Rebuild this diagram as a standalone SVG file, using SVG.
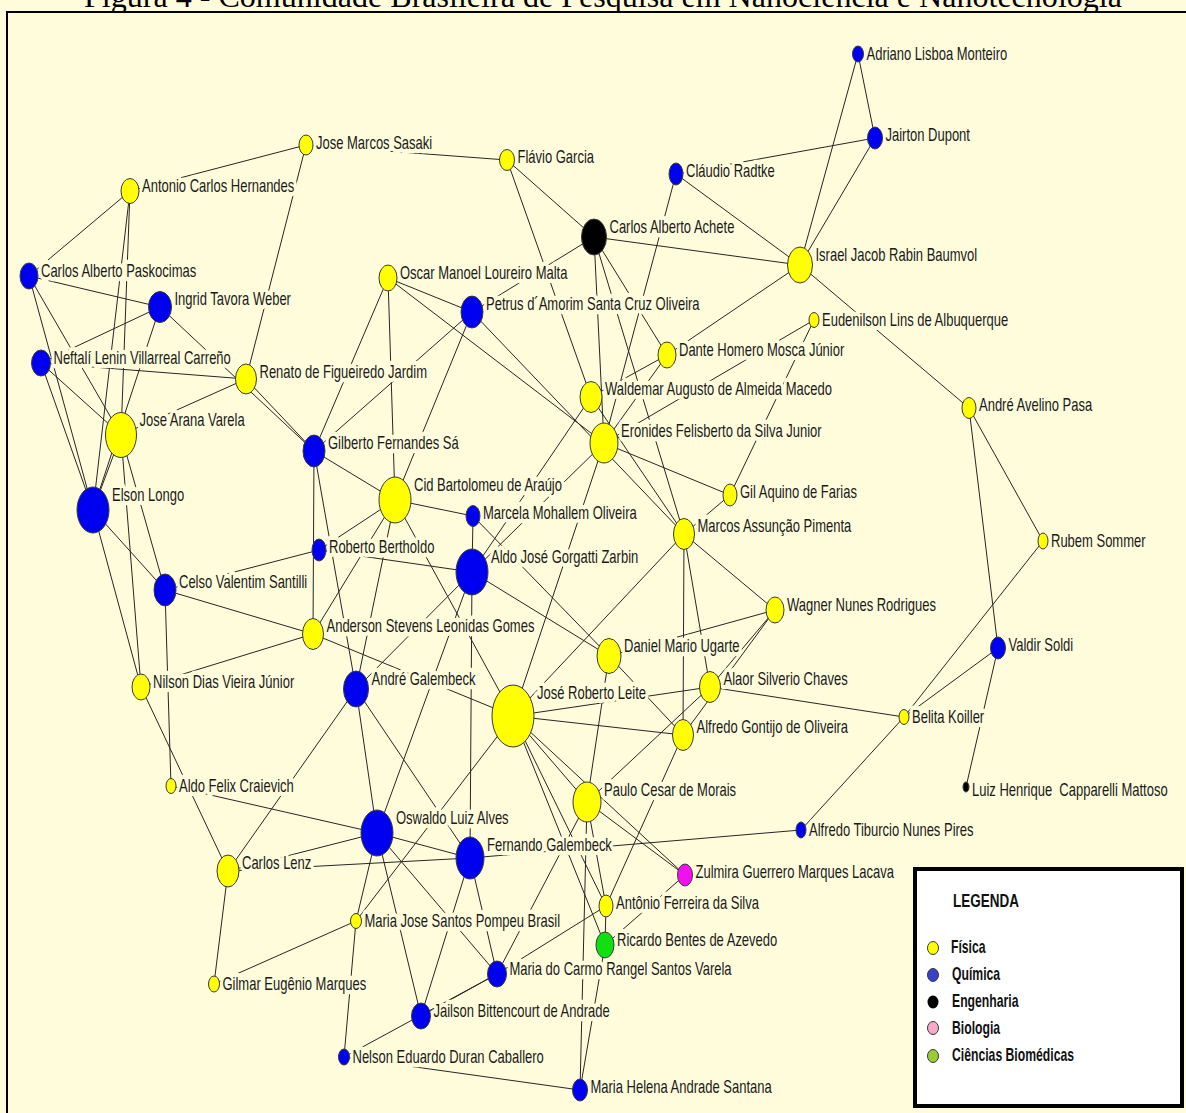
<svg xmlns="http://www.w3.org/2000/svg" width="1186" height="1113" viewBox="0 0 1186 1113">
<style>
.bg{fill:#FFFCDC}
.e line{stroke:#262626;stroke-width:1;fill:none}
.n{stroke:#3a3a3a;stroke-width:1}
.y{fill:#FFFF00}.b{fill:#0000F0}.k{fill:#000000}.m{fill:#F010F0}.g{fill:#10E010}
.l{font-family:"Liberation Sans",Arial,sans-serif;font-size:13px;fill:#1a1a1a;stroke:#FFFCDC;stroke-width:6px;stroke-linejoin:round;paint-order:stroke}
.lg{font-family:"Liberation Sans",Arial,sans-serif;font-weight:bold;fill:#111}
</style>
<rect class="bg" x="0" y="0" width="1186" height="1113"/>
<text x="84" y="7" font-family="Liberation Serif,Times New Roman,serif" font-size="31" textLength="1038" lengthAdjust="spacingAndGlyphs" fill="#000">Figura 4 - Comunidade Brasileira de Pesquisa em Nanociência e Nanotecnologia</text>
<rect x="7" y="12" width="1190" height="1110" fill="#FFFCDC" stroke="#000" stroke-width="2"/>
<g id="connectors" class="e">
<line x1="858" y1="54" x2="875" y2="138"/>
<line x1="858" y1="54" x2="800" y2="265"/>
<line x1="875" y1="138" x2="800" y2="265"/>
<line x1="875" y1="138" x2="676" y2="174"/>
<line x1="676" y1="174" x2="800" y2="265"/>
<line x1="676" y1="174" x2="604" y2="443"/>
<line x1="594" y1="237" x2="800" y2="265"/>
<line x1="507" y1="160" x2="594" y2="237"/>
<line x1="306" y1="145" x2="507" y2="160"/>
<line x1="507" y1="160" x2="591" y2="397"/>
<line x1="594" y1="237" x2="604" y2="443"/>
<line x1="594" y1="237" x2="684" y2="534"/>
<line x1="594" y1="237" x2="667" y2="355"/>
<line x1="594" y1="237" x2="472" y2="312"/>
<line x1="800" y1="265" x2="969" y2="408"/>
<line x1="800" y1="265" x2="667" y2="355"/>
<line x1="814" y1="320" x2="730" y2="495"/>
<line x1="814" y1="320" x2="604" y2="443"/>
<line x1="667" y1="355" x2="591" y2="397"/>
<line x1="667" y1="355" x2="604" y2="443"/>
<line x1="969" y1="408" x2="1043" y2="541"/>
<line x1="969" y1="408" x2="998" y2="648"/>
<line x1="1043" y1="541" x2="904" y2="717"/>
<line x1="998" y1="648" x2="904" y2="717"/>
<line x1="998" y1="648" x2="966" y2="787"/>
<line x1="904" y1="717" x2="801" y2="830"/>
<line x1="710" y1="687" x2="904" y2="717"/>
<line x1="801" y1="830" x2="470" y2="858"/>
<line x1="604" y1="443" x2="730" y2="495"/>
<line x1="730" y1="495" x2="684" y2="534"/>
<line x1="684" y1="534" x2="775" y2="610"/>
<line x1="684" y1="534" x2="710" y2="687"/>
<line x1="684" y1="534" x2="683" y2="735"/>
<line x1="684" y1="534" x2="513" y2="716"/>
<line x1="775" y1="610" x2="710" y2="687"/>
<line x1="775" y1="610" x2="683" y2="735"/>
<line x1="775" y1="610" x2="609" y2="656"/>
<line x1="609" y1="656" x2="683" y2="735"/>
<line x1="609" y1="656" x2="587" y2="802"/>
<line x1="513" y1="716" x2="710" y2="687"/>
<line x1="513" y1="716" x2="683" y2="735"/>
<line x1="710" y1="687" x2="587" y2="802"/>
<line x1="683" y1="735" x2="606" y2="906"/>
<line x1="513" y1="716" x2="587" y2="802"/>
<line x1="513" y1="716" x2="685" y2="875"/>
<line x1="513" y1="716" x2="605" y2="945"/>
<line x1="513" y1="716" x2="606" y2="906"/>
<line x1="587" y1="802" x2="685" y2="875"/>
<line x1="587" y1="802" x2="606" y2="906"/>
<line x1="587" y1="802" x2="580" y2="1090"/>
<line x1="587" y1="802" x2="497" y2="974"/>
<line x1="605" y1="945" x2="580" y2="1090"/>
<line x1="606" y1="906" x2="605" y2="945"/>
<line x1="685" y1="875" x2="605" y2="945"/>
<line x1="497" y1="974" x2="606" y2="906"/>
<line x1="470" y1="858" x2="497" y2="974"/>
<line x1="470" y1="858" x2="421" y2="1016"/>
<line x1="377" y1="833" x2="470" y2="858"/>
<line x1="228" y1="871" x2="470" y2="858"/>
<line x1="228" y1="871" x2="377" y2="833"/>
<line x1="171" y1="786" x2="377" y2="833"/>
<line x1="377" y1="833" x2="356" y2="921"/>
<line x1="377" y1="833" x2="421" y2="1016"/>
<line x1="377" y1="833" x2="497" y2="974"/>
<line x1="377" y1="833" x2="472" y2="572"/>
<line x1="356" y1="921" x2="513" y2="716"/>
<line x1="356" y1="921" x2="214" y2="984"/>
<line x1="356" y1="921" x2="344" y2="1057"/>
<line x1="356" y1="689" x2="377" y2="833"/>
<line x1="228" y1="871" x2="214" y2="984"/>
<line x1="228" y1="871" x2="356" y2="689"/>
<line x1="141" y1="687" x2="228" y2="871"/>
<line x1="165" y1="590" x2="171" y2="786"/>
<line x1="165" y1="590" x2="313" y2="634"/>
<line x1="141" y1="687" x2="313" y2="634"/>
<line x1="93" y1="510" x2="165" y2="590"/>
<line x1="93" y1="510" x2="141" y2="687"/>
<line x1="121" y1="435" x2="141" y2="687"/>
<line x1="121" y1="435" x2="165" y2="590"/>
<line x1="121" y1="435" x2="93" y2="510"/>
<line x1="130" y1="191" x2="93" y2="510"/>
<line x1="160" y1="307" x2="93" y2="510"/>
<line x1="130" y1="191" x2="29" y2="276"/>
<line x1="130" y1="191" x2="121" y2="435"/>
<line x1="306" y1="145" x2="130" y2="191"/>
<line x1="306" y1="145" x2="246" y2="379"/>
<line x1="29" y1="276" x2="160" y2="307"/>
<line x1="29" y1="276" x2="121" y2="435"/>
<line x1="29" y1="276" x2="93" y2="510"/>
<line x1="41" y1="363" x2="160" y2="307"/>
<line x1="41" y1="363" x2="246" y2="379"/>
<line x1="41" y1="363" x2="121" y2="435"/>
<line x1="41" y1="363" x2="93" y2="510"/>
<line x1="160" y1="307" x2="314" y2="451"/>
<line x1="246" y1="379" x2="314" y2="451"/>
<line x1="246" y1="379" x2="121" y2="435"/>
<line x1="388" y1="278" x2="472" y2="312"/>
<line x1="388" y1="278" x2="604" y2="443"/>
<line x1="472" y1="312" x2="684" y2="534"/>
<line x1="591" y1="397" x2="684" y2="534"/>
<line x1="388" y1="278" x2="314" y2="451"/>
<line x1="388" y1="278" x2="395" y2="500"/>
<line x1="472" y1="312" x2="314" y2="451"/>
<line x1="472" y1="312" x2="395" y2="500"/>
<line x1="314" y1="451" x2="395" y2="500"/>
<line x1="314" y1="451" x2="313" y2="634"/>
<line x1="314" y1="451" x2="356" y2="689"/>
<line x1="395" y1="500" x2="473" y2="516"/>
<line x1="395" y1="500" x2="319" y2="550"/>
<line x1="395" y1="500" x2="313" y2="634"/>
<line x1="395" y1="500" x2="356" y2="689"/>
<line x1="395" y1="500" x2="513" y2="716"/>
<line x1="319" y1="550" x2="472" y2="572"/>
<line x1="319" y1="550" x2="165" y2="590"/>
<line x1="473" y1="516" x2="472" y2="572"/>
<line x1="473" y1="516" x2="609" y2="656"/>
<line x1="472" y1="572" x2="609" y2="656"/>
<line x1="472" y1="572" x2="356" y2="689"/>
<line x1="472" y1="572" x2="604" y2="443"/>
<line x1="591" y1="397" x2="472" y2="572"/>
<line x1="604" y1="443" x2="513" y2="716"/>
<line x1="472" y1="572" x2="470" y2="858"/>
<line x1="313" y1="634" x2="513" y2="716"/>
<line x1="356" y1="689" x2="470" y2="858"/>
<line x1="497" y1="974" x2="421" y2="1016"/>
<line x1="497" y1="974" x2="344" y2="1057"/>
<line x1="344" y1="1057" x2="580" y2="1090"/>
</g>
<g id="n-adriano"><text class="l" transform="translate(866.5,59.5) scale(1,1.4)">Adriano Lisboa Monteiro</text><ellipse class="n b" cx="858" cy="54" rx="5.5" ry="8"/></g>
<g id="n-jairton"><text class="l" transform="translate(885.5,140.5) scale(1,1.4)">Jairton Dupont</text><ellipse class="n b" cx="875" cy="138" rx="7.5" ry="11"/></g>
<g id="n-claudio"><text class="l" transform="translate(686,176.5) scale(1,1.4)">Cláudio Radtke</text><ellipse class="n b" cx="676" cy="174" rx="7" ry="11"/></g>
<g id="n-sasaki"><text class="l" transform="translate(316,148.5) scale(1,1.4)">Jose Marcos Sasaki</text><ellipse class="n y" cx="306" cy="145" rx="7" ry="10"/></g>
<g id="n-flavio"><text class="l" transform="translate(517.5,163) scale(1,1.4)">Flávio Garcia</text><ellipse class="n y" cx="507" cy="160" rx="7.5" ry="10.5"/></g>
<g id="n-hernandes"><text class="l" transform="translate(142,192) scale(1,1.4)">Antonio Carlos Hernandes</text><ellipse class="n y" cx="130" cy="191" rx="9" ry="12.5"/></g>
<g id="n-achete"><text class="l" transform="translate(609.5,232.5) scale(1,1.4)">Carlos Alberto Achete</text><ellipse class="n k" cx="594" cy="237" rx="12.5" ry="18"/></g>
<g id="n-baumvol"><text class="l" transform="translate(815.5,260.5) scale(1,1.4)">Israel Jacob Rabin Baumvol</text><ellipse class="n y" cx="800" cy="265" rx="12.5" ry="18"/></g>
<g id="n-paskocimas"><text class="l" transform="translate(41,276.5) scale(1,1.4)">Carlos Alberto Paskocimas</text><ellipse class="n b" cx="29" cy="276" rx="9" ry="13"/></g>
<g id="n-malta"><text class="l" transform="translate(400,278.5) scale(1,1.4)">Oscar Manoel Loureiro Malta</text><ellipse class="n y" cx="388" cy="278" rx="9" ry="13"/></g>
<g id="n-weber"><text class="l" transform="translate(174.5,305) scale(1,1.4)">Ingrid Tavora Weber</text><ellipse class="n b" cx="160" cy="307" rx="11.5" ry="15.5"/></g>
<g id="n-petrus"><text class="l" transform="translate(486,309.5) scale(1,1.4)">Petrus d´Amorim Santa Cruz Oliveira</text><ellipse class="n b" cx="472" cy="312" rx="11" ry="16"/></g>
<g id="n-eudenilson"><text class="l" transform="translate(822,326) scale(1,1.4)">Eudenilson Lins de Albuquerque</text><ellipse class="n y" cx="814" cy="320" rx="5" ry="7.5"/></g>
<g id="n-neftali"><text class="l" transform="translate(53.5,363.5) scale(1,1.4)">Neftalí Lenin Villarreal Carreño</text><ellipse class="n b" cx="41" cy="363" rx="9.5" ry="13"/></g>
<g id="n-renato"><text class="l" transform="translate(259.5,377.5) scale(1,1.4)">Renato de Figueiredo Jardim</text><ellipse class="n y" cx="246" cy="379" rx="10.5" ry="15"/></g>
<g id="n-dante"><text class="l" transform="translate(679,355.5) scale(1,1.4)">Dante Homero Mosca Júnior</text><ellipse class="n y" cx="667" cy="355" rx="9" ry="13"/></g>
<g id="n-waldemar"><text class="l" transform="translate(605,395) scale(1,1.4)">Waldemar Augusto de Almeida Macedo</text><ellipse class="n y" cx="591" cy="397" rx="11" ry="15.5"/></g>
<g id="n-eronides"><text class="l" transform="translate(621,436.5) scale(1,1.4)">Eronides Felisberto da Silva Junior</text><ellipse class="n y" cx="604" cy="443" rx="14" ry="20"/></g>
<g id="n-pasa"><text class="l" transform="translate(979,411) scale(1,1.4)">André Avelino Pasa</text><ellipse class="n y" cx="969" cy="408" rx="7" ry="10.5"/></g>
<g id="n-arana"><text class="l" transform="translate(139.5,426) scale(1,1.4)">Jose Arana Varela</text><ellipse class="n y" cx="121" cy="435" rx="15.5" ry="22.5"/></g>
<g id="n-gilberto"><text class="l" transform="translate(328,448.5) scale(1,1.4)">Gilberto Fernandes Sá</text><ellipse class="n b" cx="314" cy="451" rx="11" ry="16"/></g>
<g id="n-cid"><text class="l" transform="translate(414,490.5) scale(1,1.4)">Cid Bartolomeu de Araújo</text><ellipse class="n y" cx="395" cy="500" rx="16" ry="23"/></g>
<g id="n-gil"><text class="l" transform="translate(740,497.5) scale(1,1.4)">Gil Aquino de Farias</text><ellipse class="n y" cx="730" cy="495" rx="7" ry="11"/></g>
<g id="n-marcela"><text class="l" transform="translate(483,519) scale(1,1.4)">Marcela Mohallem Oliveira</text><ellipse class="n b" cx="473" cy="516" rx="7" ry="10.5"/></g>
<g id="n-elson"><text class="l" transform="translate(112,500.5) scale(1,1.4)">Elson Longo</text><ellipse class="n b" cx="93" cy="510" rx="16" ry="23"/></g>
<g id="n-pimenta"><text class="l" transform="translate(697.5,532) scale(1,1.4)">Marcos Assunção Pimenta</text><ellipse class="n y" cx="684" cy="534" rx="10.5" ry="15.5"/></g>
<g id="n-sommer"><text class="l" transform="translate(1051,546.5) scale(1,1.4)">Rubem Sommer</text><ellipse class="n y" cx="1043" cy="541" rx="5" ry="8"/></g>
<g id="n-bertholdo"><text class="l" transform="translate(329,552.5) scale(1,1.4)">Roberto Bertholdo</text><ellipse class="n b" cx="319" cy="550" rx="7" ry="11"/></g>
<g id="n-zarbin"><text class="l" transform="translate(491,562.5) scale(1,1.4)">Aldo José Gorgatti Zarbin</text><ellipse class="n b" cx="472" cy="572" rx="16" ry="23"/></g>
<g id="n-santilli"><text class="l" transform="translate(179,587.5) scale(1,1.4)">Celso Valentim Santilli</text><ellipse class="n b" cx="165" cy="590" rx="11" ry="16"/></g>
<g id="n-wagner"><text class="l" transform="translate(787,610.5) scale(1,1.4)">Wagner Nunes Rodrigues</text><ellipse class="n y" cx="775" cy="610" rx="9" ry="13"/></g>
<g id="n-anderson"><text class="l" transform="translate(326.5,632) scale(1,1.4)">Anderson Stevens Leonidas Gomes</text><ellipse class="n y" cx="313" cy="634" rx="10.5" ry="15.5"/></g>
<g id="n-ugarte"><text class="l" transform="translate(624,652) scale(1,1.4)">Daniel Mario Ugarte</text><ellipse class="n y" cx="609" cy="656" rx="12" ry="17.5"/></g>
<g id="n-soldi"><text class="l" transform="translate(1008.5,650.5) scale(1,1.4)">Valdir Soldi</text><ellipse class="n b" cx="998" cy="648" rx="7.5" ry="11"/></g>
<g id="n-nilson"><text class="l" transform="translate(153,687.5) scale(1,1.4)">Nilson Dias Vieira Júnior</text><ellipse class="n y" cx="141" cy="687" rx="9" ry="13"/></g>
<g id="n-andre-galembeck"><text class="l" transform="translate(371.5,684.5) scale(1,1.4)">André Galembeck</text><ellipse class="n b" cx="356" cy="689" rx="12.5" ry="18"/></g>
<g id="n-alaor"><text class="l" transform="translate(723.5,685) scale(1,1.4)">Alaor Silverio Chaves</text><ellipse class="n y" cx="710" cy="687" rx="10.5" ry="15.5"/></g>
<g id="n-leite"><text class="l" transform="translate(537,698.5) scale(1,1.4)">José Roberto Leite</text><ellipse class="n y" cx="513" cy="716" rx="21" ry="31"/></g>
<g id="n-belita"><text class="l" transform="translate(912,723) scale(1,1.4)">Belita Koiller</text><ellipse class="n y" cx="904" cy="717" rx="5" ry="7.5"/></g>
<g id="n-gontijo"><text class="l" transform="translate(696.5,733) scale(1,1.4)">Alfredo Gontijo de Oliveira</text><ellipse class="n y" cx="683" cy="735" rx="10.5" ry="15.5"/></g>
<g id="n-mattoso"><text class="l" xml:space="preserve" transform="translate(972,795.5) scale(1,1.4)">Luiz Henrique  Capparelli Mattoso</text><ellipse class="n k" cx="966" cy="787" rx="3" ry="5"/></g>
<g id="n-craievich"><text class="l" transform="translate(179,792) scale(1,1.4)">Aldo Felix Craievich</text><ellipse class="n y" cx="171" cy="786" rx="5" ry="7.5"/></g>
<g id="n-morais"><text class="l" transform="translate(604,795.5) scale(1,1.4)">Paulo Cesar de Morais</text><ellipse class="n y" cx="587" cy="802" rx="14" ry="20"/></g>
<g id="n-alves"><text class="l" transform="translate(396,823.5) scale(1,1.4)">Oswaldo Luiz Alves</text><ellipse class="n b" cx="377" cy="833" rx="16" ry="23"/></g>
<g id="n-pires"><text class="l" transform="translate(809,835.5) scale(1,1.4)">Alfredo Tiburcio Nunes Pires</text><ellipse class="n b" cx="801" cy="830" rx="5" ry="8"/></g>
<g id="n-fernando"><text class="l" transform="translate(487,850.5) scale(1,1.4)">Fernando Galembeck</text><ellipse class="n b" cx="470" cy="858" rx="14" ry="21"/></g>
<g id="n-lenz"><text class="l" transform="translate(242,868.5) scale(1,1.4)">Carlos Lenz</text><ellipse class="n y" cx="228" cy="871" rx="11" ry="16"/></g>
<g id="n-zulmira"><text class="l" transform="translate(695.5,877.5) scale(1,1.4)">Zulmira Guerrero Marques Lacava</text><ellipse class="n m" cx="685" cy="875" rx="7.5" ry="11"/></g>
<g id="n-antonio"><text class="l" transform="translate(616,908.5) scale(1,1.4)">Antônio Ferreira da Silva</text><ellipse class="n y" cx="606" cy="906" rx="7" ry="11"/></g>
<g id="n-pompeu"><text class="l" transform="translate(364.5,927) scale(1,1.4)">Maria Jose Santos Pompeu Brasil</text><ellipse class="n y" cx="356" cy="921" rx="5.5" ry="7.5"/></g>
<g id="n-ricardo"><text class="l" transform="translate(617,945.5) scale(1,1.4)">Ricardo Bentes de Azevedo</text><ellipse class="n g" cx="605" cy="945" rx="9" ry="13"/></g>
<g id="n-carmo"><text class="l" transform="translate(509.5,974.5) scale(1,1.4)">Maria do Carmo Rangel Santos Varela</text><ellipse class="n b" cx="497" cy="974" rx="9.5" ry="13"/></g>
<g id="n-gilmar"><text class="l" transform="translate(222.5,989.5) scale(1,1.4)">Gilmar Eugênio Marques</text><ellipse class="n y" cx="214" cy="984" rx="5.5" ry="8"/></g>
<g id="n-jailson"><text class="l" transform="translate(433.5,1016.5) scale(1,1.4)">Jailson Bittencourt de Andrade</text><ellipse class="n b" cx="421" cy="1016" rx="9.5" ry="13"/></g>
<g id="n-nelson"><text class="l" transform="translate(352.5,1062.5) scale(1,1.4)">Nelson Eduardo Duran Caballero</text><ellipse class="n b" cx="344" cy="1057" rx="5.5" ry="8"/></g>
<g id="n-santana"><text class="l" transform="translate(590.5,1092.5) scale(1,1.4)">Maria Helena Andrade Santana</text><ellipse class="n b" cx="580" cy="1090" rx="7.5" ry="11"/></g>
<g id="legend">
<rect x="915" y="869" width="267" height="237" fill="#FFFFFF" stroke="#000" stroke-width="4"/>
<text class="lg" font-size="13.5" transform="translate(953,907) scale(1,1.4)">LEGENDA</text>
<ellipse class="n" cx="933" cy="948" rx="5.5" ry="6.5" fill="#FFFF00"/>
<text class="lg" font-size="12.2" transform="translate(951,953) scale(1,1.5)">Física</text>
<ellipse class="n" cx="933" cy="975" rx="5.5" ry="6.5" fill="#3C40C8"/>
<text class="lg" font-size="12.2" transform="translate(952,980) scale(1,1.5)">Química</text>
<ellipse cx="933" cy="1002" rx="5.5" ry="6.5" fill="#000"/>
<text class="lg" font-size="12.2" transform="translate(952,1007) scale(1,1.5)">Engenharia</text>
<ellipse class="n" cx="933" cy="1028" rx="5.5" ry="6.5" fill="#F8A8C8"/>
<text class="lg" font-size="12.2" transform="translate(952,1034) scale(1,1.5)">Biologia</text>
<ellipse class="n" cx="933" cy="1056" rx="5.5" ry="6.5" fill="#9ACD32"/>
<text class="lg" font-size="12.2" transform="translate(952,1061) scale(1,1.5)">Ciências Biomédicas</text>
</g>
</svg>
